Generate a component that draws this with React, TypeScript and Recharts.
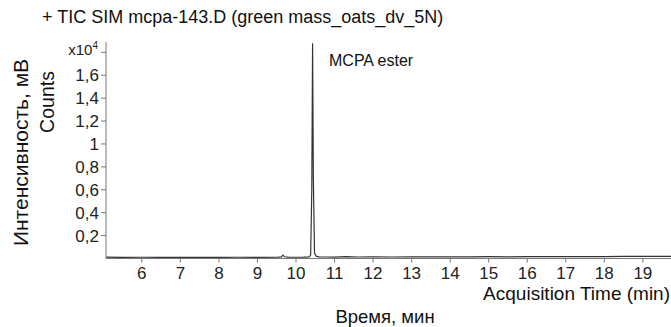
import React from "react";
import { LineChart, Line, XAxis, YAxis } from "recharts";

const times = [5.07, 5.5, 6.0, 6.5, 7.0, 7.5, 8.0, 8.5, 9.0, 9.5, 9.62, 9.66, 9.7, 9.8, 10.0, 10.2, 10.34, 10.38, 10.41, 10.43, 10.45, 10.48, 10.52, 10.6, 10.8, 11.0, 11.3, 11.6, 12.0, 12.5, 13.0, 13.5, 14.0, 14.5, 15.0, 15.5, 16.0, 16.5, 17.0, 17.5, 18.0, 18.5, 19.0, 19.5, 19.73];
const counts = [0.012, 0.01, 0.011, 0.009, 0.01, 0.01, 0.009, 0.011, 0.01, 0.011, 0.014, 0.03, 0.015, 0.012, 0.011, 0.012, 0.014, 0.03, 0.6, 1.88, 0.7, 0.05, 0.02, 0.015, 0.013, 0.012, 0.016, 0.013, 0.014, 0.013, 0.014, 0.014, 0.015, 0.014, 0.016, 0.015, 0.016, 0.016, 0.017, 0.016, 0.017, 0.018, 0.018, 0.019, 0.019];

const xTicks = [6, 7, 8, 9, 10, 11, 12, 13, 14, 15, 16, 17, 18, 19];
const yTicks = [0.2, 0.4, 0.6, 0.8, 1, 1.2, 1.4, 1.6, 1.8];
const yTickLabels = ["0,2", "0,4", "0,6", "0,8", "1", "1,2", "1,4", "1,6", "x10"];

const data = times.map((t, i) => ({ t, c: counts[i] }));

const FONT = "'Liberation Sans', Arial, sans-serif";

const YTick = (props: any) => {
  const { x, y, payload } = props;
  const idx = yTicks.indexOf(payload.value);
  const label = idx >= 0 ? yTickLabels[idx] : String(payload.value);
  if (payload.value === 1.8) {
    return (
      <text x={x - 1} y={y} dy={3} textAnchor="end" fontSize={15} fill="#222" fontFamily={FONT}>
        {label}
        <tspan fontSize={10} dy={-6}>4</tspan>
      </text>
    );
  }
  return (
    <text x={x} y={y} dy={6} textAnchor="end" fontSize={17} fill="#222" fontFamily={FONT}>
      {label}
    </text>
  );
};

export default function App() {
  return (
    <div style={{ position: "absolute", left: 0, top: 0, width: 671, height: 327, background: "#fff" }}>
      <LineChart width={671} height={327} data={data} margin={{ top: 42, right: 0, bottom: 38.5, left: 40 }}>
        <XAxis
          dataKey="t"
          type="number"
          domain={[5.07, 19.73]}
          ticks={xTicks}
          interval={0}
          allowDataOverflow
          stroke="#777"
          tickSize={4}
          tick={{ fontSize: 17, fill: "#222", fontFamily: FONT }}
          tickMargin={4}
          height={30}
        />
        <YAxis
          type="number"
          domain={[0, 1.89]}
          ticks={yTicks}
          interval={0}
          allowDataOverflow
          stroke="#777"
          tickSize={5}
          width={66}
          tick={<YTick />}
        />
        <Line type="linear" dataKey="c" stroke="#333" strokeWidth={1.2} dot={false} isAnimationActive={false} />
      </LineChart>
      <svg width={671} height={327} style={{ position: "absolute", left: 0, top: 0, pointerEvents: "none" }}>
        <text x={42} y={23} fontSize={18} fill="#111" fontFamily={FONT}>+ TIC SIM mcpa-143.D (green mass_oats_dv_5N)</text>
        <text x={329} y={66} fontSize={16} fill="#111" fontFamily={FONT}>MCPA ester</text>
        <text transform="translate(28,152.5) rotate(-90)" textAnchor="middle" fontSize={21} fill="#111" fontFamily={FONT}>Интенсивность, мВ</text>
        <text transform="translate(54,102) rotate(-90)" textAnchor="middle" fontSize={19.5} fill="#111" fontFamily={FONT}>Counts</text>
        <text x={670} y={300} textAnchor="end" fontSize={19} fill="#111" fontFamily={FONT}>Acquisition Time (min)</text>
        <text x={385} y={323} textAnchor="middle" fontSize={18.5} fill="#111" fontFamily={FONT}>Время, мин</text>
      </svg>
    </div>
  );
}
